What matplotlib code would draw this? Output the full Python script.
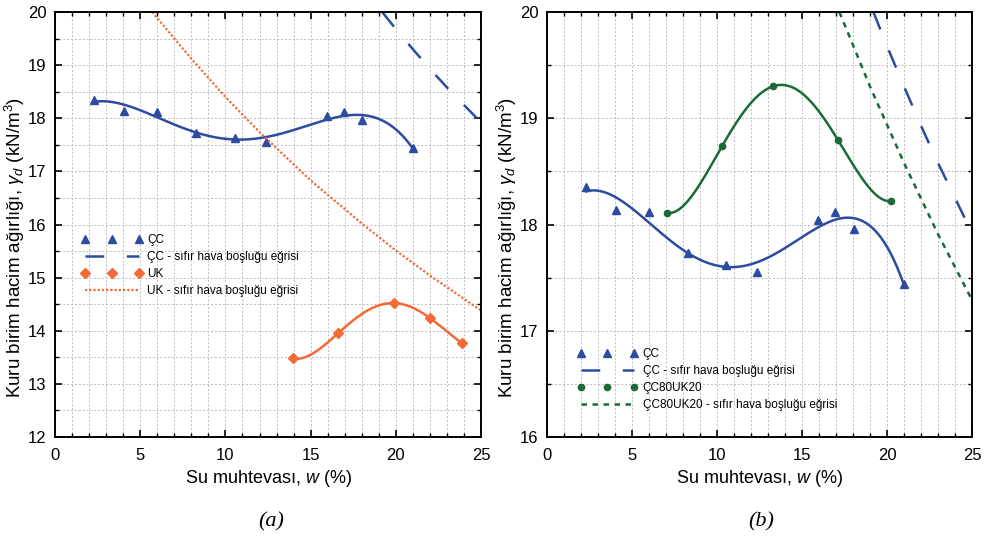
import numpy as np
import matplotlib
matplotlib.use("Agg")
import matplotlib.pyplot as plt
from matplotlib.ticker import MultipleLocator

plt.rcParams['font.family'] = ['Liberation Sans', 'DejaVu Sans']
plt.rcParams['mathtext.fontset'] = 'custom'
plt.rcParams['mathtext.rm'] = 'Liberation Sans'
plt.rcParams['mathtext.it'] = 'Liberation Sans:italic'

# --- data ---
cc_w = [2.3, 4.05, 6.0, 8.3, 10.56, 12.38, 15.95, 16.93, 18.04, 21.0]
cc_g = [18.35, 18.14, 18.12, 17.73, 17.62, 17.55, 18.04, 18.12, 17.96, 17.44]

uk_w = [13.98, 16.6, 19.9, 22.0, 23.87]
uk_g = [13.48, 13.95, 14.52, 14.24, 13.77]

mix_w = [7.04, 10.31, 13.28, 17.1, 20.24]
mix_g = [18.11, 18.74, 19.30, 18.80, 18.22]

# zero air void curves
cc_zav_w = [19.2, 20, 21, 22, 23, 24, 25]
cc_zav_g = [20.0, 19.68, 19.3, 18.93, 18.58, 18.25, 17.92]

uk_zav_w = [5.7, 8, 10, 12, 15, 18, 20, 22, 25]
uk_zav_g = [20.0, 19.12, 18.40, 17.74, 16.83, 16.02, 15.51, 15.04, 14.38]

mix_zav_w = [17.2, 19, 21, 23, 25]
mix_zav_g = [20.0, 19.30, 18.58, 17.91, 17.29]

blue = '#2d4ba0'
orange = '#f36a36'
green = '#1c6a37'


def fit_curve(x, y, deg):
    p = np.polyfit(x, y, deg)
    xs = np.linspace(min(x), max(x), 200)
    return xs, np.polyval(p, xs)


def style_axes(ax, ymin, ymax):
    ax.set_xlim(0, 25)
    ax.set_ylim(ymin, ymax)
    ax.xaxis.set_major_locator(MultipleLocator(5))
    ax.xaxis.set_minor_locator(MultipleLocator(1))
    ax.yaxis.set_major_locator(MultipleLocator(1))
    ax.yaxis.set_minor_locator(MultipleLocator(0.5))
    ax.grid(True, which='both', color='#bdbdbd', lw=0.7, ls=(0, (2, 2)))
    ax.set_axisbelow(True)
    ax.tick_params(which='both', direction='in', top=True, right=True, labelsize=12)
    ax.tick_params(axis='x', pad=8)
    ax.tick_params(axis='y', pad=6)
    ax.tick_params(which='major', length=5, width=1.2)
    ax.tick_params(which='minor', length=3, width=1.0)
    for s in ax.spines.values():
        s.set_linewidth(1.4)
    xl = ax.set_xlabel('Su muhtevası, $w$ (%)', fontsize=13)
    ax.xaxis.set_label_coords(0.5, -0.097)
    xl.set_va('center')
    yl = ax.set_ylabel('Kuru birim hacim ağırlığı, $\\gamma_d$ (kN/m$^3$)', fontsize=13.5)
    ax.yaxis.set_label_coords(-0.094, 0.447)
    yl.set_va('center')


def add_legend(ax, x, y):
    ax.legend(loc='upper left', bbox_to_anchor=(x, y), frameon=False, fontsize=8.5,
              numpoints=3, handlelength=5.1, handletextpad=0.45, labelspacing=0.42,
              borderpad=0, borderaxespad=0)


fig = plt.figure(figsize=(9.9, 5.37), dpi=100)
ax1 = fig.add_axes([0.0556, 0.1862, 0.4303, 0.7914])
ax2 = fig.add_axes([0.5525, 0.1862, 0.4293, 0.7914])

# (a)
xs, ys = fit_curve(cc_w, cc_g, 4)
ax1.plot(xs, ys, color=blue, lw=1.8)
ax1.plot(cc_w, cc_g, ls='none', marker='^', ms=6, color=blue, label='ÇC')
l, = ax1.plot(cc_zav_w, cc_zav_g, color=blue, lw=1.8, label='ÇC - sıfır hava boşluğu eğrisi')
l.set_dashes([7.5, 9])
xs, ys = fit_curve(uk_w, uk_g, 4)
ax1.plot(xs, ys, color=orange, lw=1.8)
ax1.plot(uk_w, uk_g, ls='none', marker='D', ms=5.5, color=orange, label='UK')
ax1.plot(uk_zav_w, uk_zav_g, color=orange, lw=1.6, ls=(0, (1, 0.9)), label='UK - sıfır hava boşluğu eğrisi')
style_axes(ax1, 12, 20)
add_legend(ax1, 0.063, 0.478)

# (b)
xs, ys = fit_curve(cc_w, cc_g, 4)
ax2.plot(xs, ys, color=blue, lw=1.8)
ax2.plot(cc_w, cc_g, ls='none', marker='^', ms=6, color=blue, label='ÇC')
l, = ax2.plot(cc_zav_w, cc_zav_g, color=blue, lw=1.8, label='ÇC - sıfır hava boşluğu eğrisi')
l.set_dashes([7.5, 9])
xs, ys = fit_curve(mix_w, mix_g, 4)
ax2.plot(xs, ys, color=green, lw=1.8)
ax2.plot(mix_w, mix_g, ls='none', marker='o', ms=4.5, color=green, label='ÇC80UK20')
l, = ax2.plot(mix_zav_w, mix_zav_g, color=green, lw=1.8, label='ÇC80UK20 - sıfır hava boşluğu eğrisi')
l.set_dashes([2.2, 2.2])
style_axes(ax2, 16, 20)
add_legend(ax2, 0.071, 0.21)

fig.text(0.274, 0.028, '(a)', fontsize=16, style='italic', family='Liberation Serif', ha='center', va='center')
fig.text(0.769, 0.028, '(b)', fontsize=16, style='italic', family='Liberation Serif', ha='center', va='center')

fig.savefig('out.png', dpi=100)
